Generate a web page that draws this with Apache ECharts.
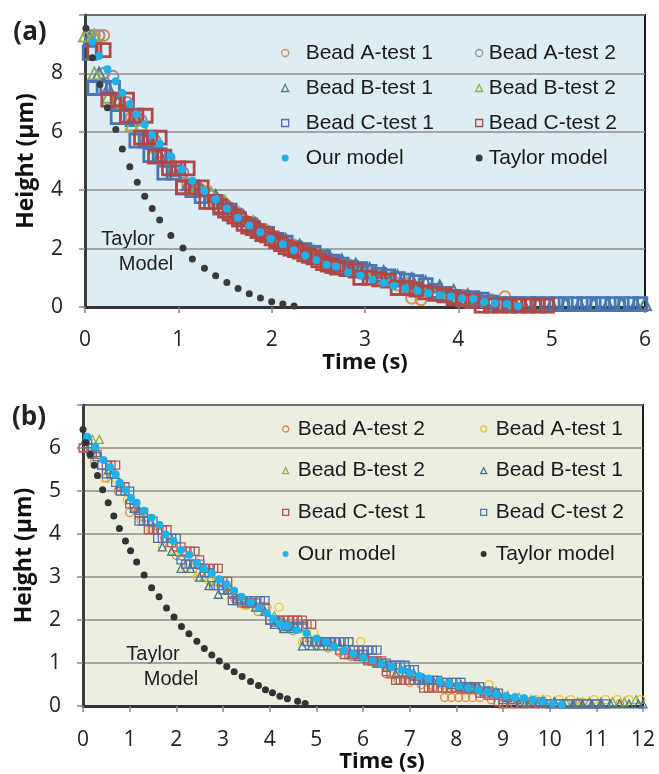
<!DOCTYPE html>
<html>
<head>
<meta charset="utf-8">
<script src="https://cdn.jsdelivr.net/npm/echarts@6/dist/echarts.min.js"></script>
<style>
html,body{margin:0;padding:0;background:#fff}
.box{position:absolute;left:0;top:0;width:659px;height:774px}
</style>
</head>
<body>
<div id="chartA" class="box"></div>
<div id="chartB" class="box"></div>
<script>
// ---- panel (a) data: [time (s), height (um)] ----
const aBeadA1 = [[0.1,9.3],[0.2,9.3],[0.2,8.0],[0.35,7.1],[0.5,6.5],[0.65,5.8],[0.8,5.3],[0.95,4.8],[1.1,4.2],[1.25,4.0],[1.4,3.7],[1.55,3.4],[1.7,3.0],[1.85,2.7],[2.0,2.4],[2.15,2.2],[2.3,1.95],[2.45,1.8],[2.6,1.7],[2.75,1.5],[2.9,1.3],[3.05,1.1],[3.2,0.9],[3.35,0.75],[3.5,0.3],[3.6,0.25],[3.75,0.5],[3.9,0.45],[4.05,0.4],[4.2,0.3],[4.35,0.25],[4.5,0.35],[4.65,0.15]]
const aBeadA2 = [[0.05,9.3],[0.15,9.3],[0.2,8.0],[0.3,7.9],[0.45,7.0],[0.6,6.4],[0.75,5.7],[0.9,5.1],[1.05,4.6],[1.2,4.1],[1.35,3.8],[1.5,3.5],[1.65,3.2],[1.8,2.9],[1.95,2.6],[2.1,2.3],[2.25,2.1],[2.4,1.9],[2.55,1.7],[2.7,1.5],[2.85,1.35],[3.0,1.2],[3.15,1.05],[3.3,0.9],[3.45,0.7],[3.6,0.6],[3.75,0.5],[3.9,0.4],[4.05,0.3],[4.2,0.2],[4.35,0.15],[4.5,0.1]]
const aBeadB1 = [[0.05,9.2],[0.15,8.0],[0.25,7.5],[0.35,7.0],[0.5,6.4],[0.65,5.7],[0.8,5.2],[0.95,4.7],[1.1,4.2],[1.25,4.0],[1.4,3.8],[1.55,3.4],[1.7,3.1],[1.85,2.8],[2.0,2.5],[2.15,2.3],[2.3,2.1],[2.45,1.9],[2.6,1.75],[2.75,1.6],[2.9,1.45],[3.05,1.3],[3.2,1.2],[3.35,1.05],[3.5,0.95],[3.65,0.85],[3.8,0.7],[3.95,0.55],[4.1,0.4],[4.25,0.25],[4.4,0.15],[4.55,0.1],[4.7,0.1],[4.85,0.1],[5.0,0.1],[5.15,0.1],[5.3,0.1],[5.45,0.1],[5.6,0.1],[5.75,0.1],[5.9,0.1],[6.0,0.1]]
const aBeadB2 = [[0.0,9.3],[0.1,9.3],[0.1,8.0],[0.25,7.2],[0.4,7.0],[0.5,6.25],[0.6,6.25],[0.75,5.5],[0.9,5.0],[1.05,4.5],[1.2,4.1],[1.35,3.9],[1.5,3.6],[1.65,3.2],[1.8,2.9],[1.95,2.6],[2.1,2.3],[2.25,2.1],[2.4,1.9],[2.55,1.75],[2.7,1.55],[2.85,1.4],[3.0,1.25],[3.15,1.1],[3.3,0.95],[3.45,0.8],[3.6,0.65],[3.75,0.5],[3.9,0.4],[4.05,0.3],[4.2,0.2],[4.35,0.15],[4.5,0.1]]
const aBeadC1 = [[0.05,8.7],[0.1,7.5],[0.2,7.5],[0.3,7.5],[0.35,6.5],[0.45,6.5],[0.55,5.7],[0.65,5.7],[0.7,5.2],[0.8,5.2],[0.85,4.6],[0.95,4.6],[1.05,4.1],[1.15,4.0],[1.25,3.8],[1.35,3.6],[1.45,3.4],[1.55,3.3],[1.65,3.0],[1.75,2.8],[1.85,2.6],[1.95,2.5],[2.05,2.3],[2.15,2.2],[2.25,2.0],[2.35,1.95],[2.45,1.85],[2.55,1.7],[2.65,1.55],[2.75,1.45],[2.85,1.35],[2.95,1.3],[3.05,1.2],[3.15,1.1],[3.25,1.05],[3.35,0.95],[3.45,0.9],[3.55,0.85],[3.65,0.75],[3.75,0.55],[3.85,0.45],[3.95,0.35],[4.05,0.3],[4.15,0.3],[4.25,0.25],[4.35,0.15],[4.45,0.1],[4.55,0.1],[4.65,0.1],[4.75,0.1],[4.85,0.1],[4.95,0.1],[5.05,0.1],[5.15,0.1],[5.25,0.1],[5.35,0.1],[5.45,0.1],[5.55,0.1],[5.65,0.1],[5.75,0.1],[5.85,0.1],[5.95,0.1]]
const aBeadC2 = [[0.1,8.8],[0.2,8.8],[0.25,7.1],[0.35,7.1],[0.45,7.1],[0.45,6.55],[0.55,6.55],[0.65,6.55],[0.6,5.8],[0.7,5.8],[0.8,5.8],[0.75,5.15],[0.85,5.15],[0.9,4.75],[1.0,4.75],[1.1,4.75],[1.05,4.1],[1.15,4.1],[1.25,4.1],[1.3,3.6],[1.4,3.6],[1.45,3.45],[1.5,3.3],[1.55,3.2],[1.6,3.1],[1.65,3.0],[1.7,2.85],[1.75,2.75],[1.8,2.7],[1.85,2.6],[1.9,2.5],[1.95,2.45],[2.0,2.35],[2.05,2.25],[2.1,2.15],[2.15,2.05],[2.2,2.0],[2.25,1.95],[2.3,1.9],[2.35,1.8],[2.4,1.75],[2.45,1.7],[2.5,1.6],[2.55,1.5],[2.6,1.45],[2.65,1.4],[2.7,1.35],[2.8,1.3],[2.9,1.25],[2.95,1.0],[3.05,1.0],[3.15,0.95],[3.25,0.9],[3.35,0.65],[3.45,0.65],[3.55,0.6],[3.65,0.5],[3.75,0.45],[3.85,0.4],[3.95,0.3],[4.05,0.25],[4.15,0.2],[4.25,0.05],[4.35,0.05],[4.45,0.05],[4.55,0.05],[4.65,0.05],[4.75,0.05],[4.85,0.05],[4.95,0.05]]
const aOurModel = [[0.08,9.09],[0.15,8.6],[0.24,8.14],[0.33,7.73],[0.40,7.33],[0.48,6.95],[0.55,6.6],[0.64,6.25],[0.72,5.9],[0.80,5.59],[0.92,5.16],[1.04,4.71],[1.15,4.32],[1.28,3.97],[1.40,3.69],[1.52,3.37],[1.64,3.06],[1.76,2.79],[1.88,2.57],[1.99,2.34],[2.12,2.15],[2.24,1.94],[2.36,1.76],[2.48,1.6],[2.59,1.45],[2.69,1.39],[2.82,1.18],[2.95,1.07],[3.08,0.93],[3.20,0.82],[3.31,0.73],[3.43,0.63],[3.56,0.56],[3.68,0.47],[3.80,0.40],[3.92,0.36],[4.04,0.30],[4.16,0.28],[4.28,0.18],[4.39,0.13],[4.52,0.10],[4.64,0.03]]
const aTaylor = [[0.01,9.55],[0.08,8.54],[0.16,7.62],[0.24,6.82],[0.33,6.08],[0.40,5.41],[0.48,4.80],[0.56,4.27],[0.64,3.79],[0.72,3.37],[0.80,2.98],[0.92,2.45],[1.05,2.02],[1.15,1.64],[1.28,1.33],[1.40,1.07],[1.52,0.84],[1.64,0.63],[1.76,0.45],[1.88,0.31],[2.00,0.18],[2.12,0.10],[2.24,0.03]]

// ---- panel (b) data ----
const bBeadA2 = [[0,6.0],[0.25,5.7],[0.5,5.3],[0.75,5.0],[1.0,4.5],[1.25,4.3],[1.5,4.1],[1.75,3.9],[2.0,3.5],[2.25,3.3],[2.5,3.1],[2.75,2.9],[3.0,2.7],[3.25,2.5],[3.5,2.35],[3.75,2.2],[4.0,2.0],[4.25,1.85],[4.5,1.75],[4.75,1.5],[5.0,1.4],[5.25,1.35],[5.5,1.25],[5.75,1.15],[6.0,1.1],[6.25,1.0],[6.5,0.75],[6.75,0.6],[7.0,0.55],[7.25,0.5],[7.5,0.45],[7.75,0.2],[7.9,0.2],[8.05,0.2],[8.2,0.2],[8.35,0.2],[8.5,0.2],[8.75,0.15],[9.0,0.05],[9.25,0.05],[9.5,0.05],[9.75,0.05],[10.0,0.05],[10.5,0.05],[11.0,0.05],[11.5,0.05]]
const bBeadA1 = [[0.2,6.0],[0.45,5.3],[0.7,5.3],[0.95,4.8],[1.2,4.4],[1.45,4.1],[1.7,3.7],[1.95,3.6],[2.2,3.2],[2.45,3.0],[2.7,2.9],[2.95,2.8],[3.2,2.6],[3.45,2.35],[3.7,2.3],[3.95,2.3],[4.2,2.3],[4.45,1.9],[4.7,1.5],[4.95,1.7],[5.2,1.5],[5.45,1.5],[5.7,1.5],[5.95,1.5],[6.2,1.05],[6.45,0.95],[6.7,0.85],[6.95,0.75],[7.2,0.65],[7.45,0.5],[7.7,0.5],[7.95,0.45],[8.2,0.45],[8.45,0.4],[8.7,0.5],[8.95,0.3],[9.2,0.15],[9.45,0.1],[9.7,0.15],[9.95,0.15],[10.2,0.15],[10.45,0.15],[10.7,0.1],[10.95,0.15],[11.2,0.15],[11.45,0.15],[11.7,0.15],[11.95,0.15]]
const bBeadB2 = [[0.2,6.2],[0.35,6.2],[0.6,5.4],[0.85,5.1],[1.1,4.6],[1.35,4.4],[1.6,4.2],[1.85,3.8],[2.1,3.5],[2.35,3.3],[2.6,3.0],[2.85,2.9],[3.1,2.8],[3.35,2.5],[3.6,2.4],[3.85,2.3],[4.1,2.1],[4.35,1.9],[4.6,1.8],[4.85,1.6],[5.1,1.5],[5.35,1.4],[5.6,1.35],[5.85,1.2],[6.1,1.15],[6.35,1.0],[6.6,0.95],[6.85,0.8],[7.1,0.75],[7.35,0.6],[7.6,0.6],[7.85,0.55],[8.1,0.5],[8.35,0.45],[8.6,0.35],[8.85,0.35],[9.1,0.25],[9.35,0.2],[9.6,0.15],[9.85,0.15],[10.1,0.1],[10.35,0.1],[10.6,0.1],[10.85,0.1],[11.1,0.1],[11.35,0.1],[11.6,0.1],[11.85,0.15]]
const bBeadB1 = [[0.05,6.2],[0.3,5.9],[0.55,5.5],[0.8,5.1],[1.0,4.8],[1.2,4.55],[1.45,4.3],[1.7,3.7],[1.9,3.6],[2.1,3.2],[2.3,3.2],[2.5,3.0],[2.7,2.8],[2.9,2.6],[3.1,2.7],[3.3,2.5],[3.5,2.4],[3.7,2.3],[3.9,2.2],[4.1,1.9],[4.3,1.8],[4.5,1.8],[4.7,1.4],[4.9,1.4],[5.1,1.4],[5.3,1.4],[5.5,1.4],[5.7,1.3],[5.9,1.15],[6.1,1.1],[6.3,1.0],[6.5,0.9],[6.7,0.75],[6.9,0.75],[7.1,0.7],[7.3,0.65],[7.5,0.6],[7.7,0.55],[7.9,0.5],[8.1,0.45],[8.3,0.45],[8.5,0.4],[8.7,0.35],[8.9,0.3],[9.1,0.2],[9.3,0.15],[9.5,0.1],[9.7,0.1],[9.9,0.1],[10.1,0.1],[10.3,0.05],[10.5,0.05],[10.7,0.05],[10.9,0.05],[11.1,0.05],[11.3,0.05],[11.5,0.05],[11.7,0.05],[11.9,0.05],[12.0,0.05]]
const bBeadC1 = [[0,6.0],[0.1,6.0],[0.2,5.85],[0.3,5.85],[0.4,5.6],[0.5,5.6],[0.6,5.6],[0.7,5.6],[0.8,5.1],[0.9,5.1],[1.0,4.7],[1.1,4.7],[1.2,4.5],[1.3,4.5],[1.4,4.1],[1.5,4.1],[1.6,4.1],[1.7,4.1],[1.8,4.1],[1.9,3.8],[2.0,3.7],[2.1,3.7],[2.2,3.6],[2.3,3.6],[2.4,3.6],[2.5,3.4],[2.6,3.2],[2.7,3.2],[2.8,3.2],[2.9,3.2],[3.0,2.9],[3.1,2.9],[3.2,2.6],[3.3,2.5],[3.4,2.4],[3.5,2.4],[3.6,2.4],[3.7,2.4],[3.8,2.3],[3.9,2.3],[4.0,2.0],[4.1,2.0],[4.2,2.0],[4.3,2.0],[4.4,2.0],[4.5,2.0],[4.6,2.0],[4.7,2.0],[4.8,1.9],[4.9,1.9],[5.0,1.5],[5.1,1.5],[5.2,1.5],[5.3,1.5],[5.4,1.5],[5.5,1.3],[5.6,1.2],[5.7,1.2],[5.8,1.2],[5.9,1.2],[6.0,1.2],[6.1,1.05],[6.2,1.05],[6.3,1.05],[6.4,1.05],[6.5,0.8],[6.6,0.75],[6.7,0.6],[6.8,0.6],[6.9,0.6],[7.0,0.6],[7.1,0.6],[7.2,0.6],[7.3,0.42],[7.4,0.42],[7.5,0.42],[7.6,0.42],[7.7,0.42],[7.8,0.42],[7.9,0.42],[8.0,0.42],[8.1,0.4],[8.2,0.4],[8.3,0.4],[8.4,0.4],[8.5,0.3],[8.6,0.3],[8.7,0.25],[8.8,0.25],[8.9,0.1],[9.0,0.05],[9.2,0.05],[9.4,0.05],[9.6,0.05],[9.8,0.05],[10.0,0.05],[10.2,0.05],[10.4,0.05],[10.6,0.05],[10.8,0.05],[11.0,0.05]]
const bBeadC2 = [[0.1,6.1],[0.2,6.0],[0.3,5.8],[0.4,5.6],[0.5,5.4],[0.6,5.4],[0.7,5.2],[0.8,5.0],[0.9,5.0],[1.0,5.0],[1.1,4.6],[1.2,4.3],[1.3,4.3],[1.4,4.3],[1.5,4.3],[1.6,3.9],[1.7,3.9],[1.8,3.9],[1.9,3.9],[2.0,3.9],[2.1,3.4],[2.2,3.3],[2.3,3.3],[2.4,3.3],[2.5,3.3],[2.6,3.1],[2.7,3.1],[2.8,2.8],[2.9,2.8],[3.0,2.7],[3.1,2.7],[3.2,2.45],[3.3,2.45],[3.4,2.45],[3.5,2.45],[3.6,2.45],[3.7,2.45],[3.8,2.45],[3.9,2.45],[4.0,2.0],[4.1,1.95],[4.2,1.95],[4.3,1.85],[4.4,1.85],[4.5,1.85],[4.6,1.85],[4.7,1.85],[4.8,1.5],[4.9,1.5],[5.0,1.5],[5.1,1.5],[5.2,1.5],[5.3,1.5],[5.4,1.5],[5.5,1.5],[5.6,1.5],[5.7,1.5],[5.8,1.3],[5.9,1.3],[6.0,1.3],[6.1,1.3],[6.2,1.3],[6.3,1.3],[6.4,1.0],[6.5,1.0],[6.6,0.95],[6.7,0.95],[6.8,0.95],[6.9,0.95],[7.0,0.85],[7.1,0.85],[7.2,0.6],[7.3,0.6],[7.4,0.6],[7.5,0.6],[7.6,0.6],[7.7,0.55],[7.8,0.55],[7.9,0.55],[8.0,0.55],[8.1,0.55],[8.2,0.45],[8.3,0.45],[8.4,0.45],[8.5,0.45],[8.6,0.35],[8.7,0.35],[8.8,0.3],[8.9,0.3],[9.0,0.15],[9.2,0.15],[9.4,0.1],[9.6,0.1],[9.8,0.1],[10.0,0.05],[10.2,0.05],[10.4,0.05],[10.6,0.05],[10.8,0.05],[11.0,0.05],[11.2,0.05]]
const bOurModel = [[0.09,6.26],[0.26,6.03],[0.44,5.72],[0.58,5.55],[0.70,5.39],[0.79,5.19],[0.92,5.03],[1.03,4.84],[1.15,4.73],[1.31,4.54],[1.47,4.38],[1.64,4.21],[1.77,3.99],[1.94,3.84],[2.10,3.63],[2.28,3.52],[2.44,3.34],[2.59,3.20],[2.76,3.08],[2.92,2.95],[3.08,2.83],[3.24,2.68],[3.40,2.54],[3.59,2.41],[3.78,2.28],[3.94,2.16],[4.08,2.03],[4.22,1.91],[4.38,1.87],[4.58,1.77],[4.79,1.70],[5.01,1.57],[5.21,1.49],[5.38,1.38],[5.59,1.30],[5.79,1.21],[6.01,1.13],[6.21,1.06],[6.40,0.98],[6.61,0.91],[6.83,0.84],[7.01,0.77],[7.21,0.70],[7.40,0.64],[7.65,0.57],[7.85,0.52],[8.06,0.47],[8.26,0.42],[8.47,0.37],[8.66,0.32],[8.86,0.27],[9.06,0.23],[9.26,0.21],[9.45,0.19],[9.65,0.15],[9.85,0.11],[10.06,0.06],[10.26,0.03]]
const bTaylor = [[0,6.43],[0.06,6.13],[0.15,5.85],[0.24,5.60],[0.31,5.36],[0.42,5.03],[0.54,4.73],[0.66,4.42],[0.78,4.13],[0.91,3.84],[1.02,3.61],[1.15,3.35],[1.31,3.05],[1.47,2.75],[1.63,2.54],[1.79,2.28],[1.95,2.07],[2.11,1.85],[2.27,1.68],[2.44,1.51],[2.60,1.34],[2.76,1.19],[2.92,1.05],[3.08,0.92],[3.24,0.80],[3.41,0.69],[3.59,0.57],[3.76,0.48],[3.91,0.38],[4.06,0.31],[4.22,0.23],[4.38,0.17],[4.60,0.11],[4.76,0.06]]

const aTicksY = [0, 2, 4, 6, 8]
const bTicksY = [0, 1, 2, 3, 4, 5, 6]

const numFont = 'Open Sans'
const txtFont = 'Liberation Sans'

//空心/实心散点
function dots(name, data, symbol, color, size, line, filled){
  return {
    type: 'scatter', name: name, data: data, symbol: symbol, symbolSize: size,
    silent: true,
    itemStyle: filled ? {color: color, opacity: 1} : {color: 'transparent', borderColor: color, borderWidth: line, opacity: 1}
  }
}

//图例一列, pad = 图标与文字的额外间距
function legendCol(names, left, top, icon, gap, pad){
  return {
    orient: 'vertical', left: left, top: top, padding: 0,
    itemWidth: icon, itemHeight: icon, itemGap: gap,
    selectedMode: false, data: names,
    itemStyle: {borderWidth: 1.3},
    textStyle: {fontFamily: txtFont, fontSize: 21, color: '#1a1a1a', lineHeight: 22, padding: [0, 0, 0, pad]}
  }
}

function axisX(max, gap, shift){
  return {
    type: 'value', min: 0, max: max, interval: 1,
    name: 'Time (s)', nameLocation: 'middle', nameGap: gap,
    nameTextStyle: {fontFamily: numFont, fontWeight: 'bold', fontSize: 22, color: '#111', padding: [0, 0, 0, shift]},
    axisLine: {show: true, lineStyle: {color: '#333', width: 3}},
    axisTick: {show: true, length: 6, lineStyle: {color: '#888', width: 1.5}},
    axisLabel: {margin: 23, fontFamily: numFont, fontSize: 21, color: '#222'},
    splitLine: {show: false}
  }
}

function axisY(max, step, ticks){
  return {
    type: 'value', min: 0, max: max, interval: step,
    name: 'Height (μm)', nameLocation: 'middle', nameGap: 47,
    nameTextStyle: {fontFamily: numFont, fontWeight: 'bold', fontSize: 23, color: '#111'},
    axisLine: {show: true, lineStyle: {color: '#3a3a3a', width: 3}},
    axisTick: {show: true, length: 6, lineStyle: {color: '#888', width: 1.5}},
    axisLabel: {margin: 22, fontFamily: numFont, fontSize: 21, color: '#222',
      formatter: v => ticks.indexOf(v) > -1 ? String(v) : ''},
    splitLine: {show: true, lineStyle: {color: '#8c8c8c', width: 1.5}}
  }
}

function label(text, x, y, size, bold){
  return {
    type: 'text', x: x, y: y, silent: true,
    style: {text: text, fill: '#222', align: 'center', verticalAlign: 'middle',
      font: (bold ? 'bold ' : '') + size + 'px "' + (bold ? numFont : txtFont) + '"'}
  }
}

// ---- panel (a) ----
let chartA = echarts.init(document.getElementById('chartA'))
chartA.setOption({
  backgroundColor: '#fff',
  animation: false,
  grid: {left: 85, top: 15, right: 14, bottom: 467, show: true,
    backgroundColor: '#dcedf4', borderColor: '#1a1a1a', borderWidth: 2},
  xAxis: axisX(6, 43, 0),
  yAxis: axisY(10, 2, aTicksY),
  legend: [
    legendCol(['Bead A-test 1', 'Bead B-test 1', 'Bead C-test 1', 'Our model'], 281, 42, 7, 13, 12),
    legendCol(['Bead A-test 2', 'Bead B-test 2', 'Bead C-test 2', 'Taylor model'], 475, 42, 7, 13, 1)
  ],
  graphic: [
    label('(a)', 30, 33, 26, true),
    label('Taylor', 128, 239, 20, false),
    label('Model', 146, 264, 20, false)
  ],
  series: [
    dots('Bead A-test 1', aBeadA1, 'circle', '#d98c4e', 11, 2),
    dots('Bead A-test 2', aBeadA2, 'circle', '#9a8aa5', 11, 2),
    dots('Bead B-test 1', aBeadB1, 'triangle', '#4d7e96', 12, 2),
    dots('Bead B-test 2', aBeadB2, 'triangle', '#8cae57', 12, 2),
    dots('Bead C-test 1', aBeadC1, 'rect', '#4a76b5', 13, 2.8),
    dots('Bead C-test 2', aBeadC2, 'rect', '#b04848', 13, 2.8),
    dots('Our model', aOurModel, 'circle', '#1eb2ec', 8, 0, true),
    dots('Taylor model', aTaylor, 'circle', '#3a3a3a', 7, 0, true)
  ]
})

// ---- panel (b) ----
let chartB = echarts.init(document.getElementById('chartB'))
chartB.setOption({
  backgroundColor: 'transparent',
  animation: false,
  grid: {left: 83, top: 405, right: 16, bottom: 64, show: true,
    backgroundColor: '#ecefdf', borderColor: '#1a1a1a', borderWidth: 2},
  xAxis: axisX(12, 42, 38),
  yAxis: axisY(7, 1, bTicksY),
  legend: [
    legendCol(['Bead A-test 2', 'Bead B-test 2', 'Bead C-test 1', 'Our model'], 282, 418, 6, 19.7, 4),
    legendCol(['Bead A-test 1', 'Bead B-test 1', 'Bead C-test 2', 'Taylor model'], 480, 418, 6, 19.7, 4)
  ],
  graphic: [
    label('(b)', 29, 418, 26, true),
    label('Taylor', 153, 654, 20, false),
    label('Model', 171, 679, 20, false)
  ],
  series: [
    dots('Bead A-test 2', bBeadA2, 'circle', '#e2893d', 8, 1.3),
    dots('Bead A-test 1', bBeadA1, 'circle', '#f0c232', 8, 1.3),
    dots('Bead B-test 2', bBeadB2, 'triangle', '#8aad55', 8, 1.3),
    dots('Bead B-test 1', bBeadB1, 'triangle', '#3e7b8a', 8, 1.3),
    dots('Bead C-test 1', bBeadC1, 'rect', '#b5585a', 8, 1.3),
    dots('Bead C-test 2', bBeadC2, 'rect', '#4f74b0', 8, 1.3),
    dots('Our model', bOurModel, 'circle', '#1eb2ec', 8, 0, true),
    dots('Taylor model', bTaylor, 'circle', '#333333', 7, 0, true)
  ]
})
</script>
</body>
</html>
